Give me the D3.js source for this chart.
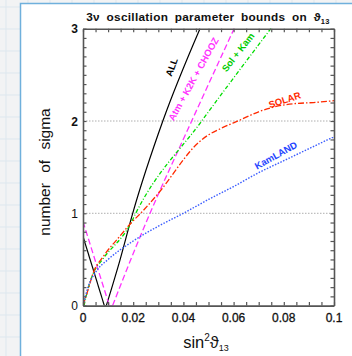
<!DOCTYPE html>
<html>
<head>
<meta charset="utf-8">
<script src="https://cdn.jsdelivr.net/npm/d3@7"></script>
<style>
  html, body { margin: 0; padding: 0; background: #f2f3f4; }
  svg { display: block; }
</style>
</head>
<body>
<svg id="chart" width="352" height="356"></svg>
<script>
// sin^2(theta13) vs number of sigma for each data combination
const allX      = [0, 0.0085, 0.0093, 0.0147, 0.0198, 0.0318, 0.0466];
const allY      = [0.75, 0, 0, 0.49, 1, 2, 3];
const atmX      = [0, 0.0105, 0.0118, 0.0216, 0.0267, 0.0433, 0.0602];
const atmY      = [0.91, 0, 0, 0.67, 1, 2, 3];
const solKamX   = [0.0004, 0.0015, 0.0041, 0.0078, 0.019, 0.021, 0.0473, 0.0748];
const solKamY   = [0, 0.13, 0.35, 0.5, 0.89, 1, 2, 3];
const solarX    = [0, 0.002, 0.004, 0.008, 0.014, 0.019, 0.024, 0.031, 0.040, 0.0426, 0.047, 0.050, 0.055, 0.0625, 0.070, 0.0758, 0.085, 0.0918, 0.1];
const solarY    = [0, 0.17, 0.35, 0.53, 0.73, 0.89, 1.03, 1.25, 1.58, 1.67, 1.79, 1.85, 1.92, 2.01, 2.1, 2.15, 2.19, 2.2, 2.22];
const kamlandX  = [0, 0.002, 0.0055, 0.01, 0.02, 0.03, 0.04, 0.05, 0.06, 0.07, 0.08, 0.09, 0.1];
const kamlandY  = [0, 0.2, 0.38, 0.5, 0.7, 0.86, 1.0, 1.15, 1.29, 1.44, 1.57, 1.7, 1.83];

const xTickValues = [0, 0.02, 0.04, 0.06, 0.08, 0.1];
const xTickLabels = ["0", "0.02", "0.04", "0.06", "0.08", "0.1"];
const yTickValues = [0, 1, 2, 3];
const yTickLabels = ["0", "1", "2", "3"];
const sigmaGuides = [1, 2];

const curves = [
  { name: "ALL", xs: allX, ys: allY, color: "#000000", dash: null, width: 1.2,
    label: { x: 0.0356, y: 2.58, angle: -70 }, labelColor: "#000000" },
  { name: "Atm + K2K + CHOOZ", xs: atmX, ys: atmY, color: "#ff33ff", dash: "6,3", width: 1.3,
    label: { x: 0.0443, y: 2.45, angle: -61 }, labelColor: "#ff33ff" },
  { name: "Sol + Kam", xs: solKamX, ys: solKamY, color: "#00dd00", dash: "4,2,1,2", width: 1.3,
    label: { x: 0.0620, y: 2.74, angle: -52 }, labelColor: "#00cc00" },
  { name: "SOLAR", xs: solarX, ys: solarY, color: "#ff2a00", dash: "6,2,1.5,2", width: 1.3,
    label: { x: 0.0805, y: 2.22, angle: -18 }, labelColor: "#ff2a00" },
  { name: "KamLAND", xs: kamlandX, ys: kamlandY, color: "#3a5cff", dash: "1.5,1.5", width: 1.4,
    label: { x: 0.0770, y: 1.62, angle: -29 }, labelColor: "#1f45ff" }
];

const svg = d3.select("#chart");
const W = 352, H = 356;

// graph-paper backdrop
const bg = svg.append("g");
for (let gx = 6; gx < W; gx += 22) {
  bg.append("line").attr("x1", gx).attr("x2", gx).attr("y1", 0).attr("y2", H)
    .attr("stroke", "#dde7ee").attr("stroke-width", 1);
}
for (let gy = 7; gy < H; gy += 22) {
  bg.append("line").attr("x1", 0).attr("x2", W).attr("y1", gy).attr("y2", gy)
    .attr("stroke", "#dde7ee").attr("stroke-width", 1);
}

// white panel
svg.append("rect").attr("x", 22).attr("y", 6).attr("width", 340).attr("height", 360)
  .attr("fill", "#c9dcea").attr("opacity", 0.6);
svg.append("rect").attr("x", 20.5).attr("y", 3.5).attr("width", 340).attr("height", 360)
  .attr("fill", "#ffffff").attr("stroke", "#6fb0dc").attr("stroke-width", 1.5);

const plotLeft = 83, plotRight = 334, plotTop = 28.7, plotBottom = 305.6;
const x = d3.scaleLinear().domain([0, 0.1]).range([plotLeft, plotRight]);
const y = d3.scaleLinear().domain([0, 3]).range([plotBottom, plotTop]);

const font = "'Liberation Sans', Arial, Helvetica, sans-serif";

// dotted sigma guides
svg.append("g").selectAll("line").data(sigmaGuides).join("line")
  .attr("x1", x(0)).attr("x2", x(0.1))
  .attr("y1", d => y(d)).attr("y2", d => y(d))
  .attr("stroke", "#9a9a9a").attr("stroke-width", 0.8).attr("stroke-dasharray", "1.5,1.5");

// curves
svg.append("clipPath").attr("id", "plotclip").append("rect")
  .attr("x", plotLeft).attr("y", plotTop - 1)
  .attr("width", plotRight - plotLeft).attr("height", plotBottom - plotTop + 1);

const line = d3.line().x(d => x(d[0])).y(d => y(d[1])).curve(d3.curveMonotoneX);
const curveG = svg.append("g").attr("clip-path", "url(#plotclip)");

// split each curve at its zero(s) so V-shaped minima keep a sharp corner
function branches(pts) {
  const out = [];
  let cur = [];
  pts.forEach((p, i) => {
    cur.push(p);
    if (p[1] === 0 && i > 0 && i < pts.length - 1) {
      out.push(cur);
      cur = [p];
    }
  });
  out.push(cur);
  return out.filter(b => b.length > 1);
}

curves.forEach(c => {
  const pts = c.xs.map((v, i) => [v, c.ys[i]]);
  const g = curveG.append("g");
  branches(pts).forEach(b => {
    g.append("path").datum(b)
      .attr("d", line)
      .attr("fill", "none")
      .attr("stroke", c.color)
      .attr("stroke-width", c.width)
      .attr("stroke-dasharray", c.dash);
  });
});

// curve labels
curves.forEach(c => {
  svg.append("text")
    .attr("transform", `translate(${x(c.label.x)},${y(c.label.y)}) rotate(${c.label.angle})`)
    .attr("text-anchor", "middle")
    .attr("dominant-baseline", "middle")
    .attr("font-family", font)
    .attr("font-weight", "bold")
    .attr("font-size", 9.5)
    .attr("fill", c.labelColor)
    .text(c.name);
});

// frame axes with inward ticks
const axisColor = "#555555";
const axG = svg.append("g");
const xMinor = d3.range(0, 0.1001, 0.005);
const yMinor = d3.range(0, 3.001, 0.1);

const bottomAxis = d3.axisBottom(x).tickValues(xMinor).tickSizeInner(-3.5).tickSizeOuter(0).tickFormat("");
const topAxis = d3.axisTop(x).tickValues(xMinor).tickSizeInner(-3.5).tickSizeOuter(0).tickFormat("");
const leftAxis = d3.axisLeft(y).tickValues(yMinor).tickSizeInner(-3.5).tickSizeOuter(0).tickFormat("");
const rightAxis = d3.axisRight(y).tickValues(yMinor).tickSizeInner(-3.5).tickSizeOuter(0).tickFormat("");

axG.append("g").attr("transform", `translate(0,${plotBottom})`).call(bottomAxis);
axG.append("g").attr("transform", `translate(0,${plotTop})`).call(topAxis);
axG.append("g").attr("transform", `translate(${plotLeft},0)`).call(leftAxis);
axG.append("g").attr("transform", `translate(${plotRight},0)`).call(rightAxis);
axG.selectAll("path.domain").attr("stroke", axisColor).attr("stroke-width", 1.6);
axG.selectAll(".tick line").attr("stroke", axisColor).attr("stroke-width", 1.2);

// tick labels
svg.append("g").selectAll("text").data(xTickValues).join("text")
  .attr("x", d => x(d)).attr("y", 322)
  .attr("text-anchor", "middle")
  .attr("font-family", font).attr("font-size", 12)
  .attr("fill", "#111").attr("stroke", "#111").attr("stroke-width", 0.3)
  .text((d, i) => xTickLabels[i]);

svg.append("g").selectAll("text").data(yTickValues).join("text")
  .attr("x", 78).attr("y", d => y(d) + 4.5)
  .attr("text-anchor", "end")
  .attr("font-family", font).attr("font-size", 12)
  .attr("font-weight", d => d >= 2 ? "bold" : "normal")
  .attr("fill", "#111")
  .text((d, i) => yTickLabels[i]);

// title
const title = svg.append("text")
  .attr("x", 208).attr("y", 21)
  .attr("text-anchor", "middle")
  .attr("font-family", font).attr("font-weight", "bold").attr("font-size", 11.8)
  .attr("word-spacing", 3).attr("letter-spacing", 0.3)
  .attr("fill", "#111");
title.append("tspan").text("3ν oscillation parameter bounds on ϑ");
title.append("tspan").attr("font-size", 7.5).attr("dy", 3).text("13");

// axis titles
const xt = svg.append("text")
  .attr("x", 206).attr("y", 348)
  .attr("text-anchor", "middle")
  .attr("font-family", font).attr("font-size", 16.5)
  .attr("fill", "#111");
xt.append("tspan").text("sin");
xt.append("tspan").attr("font-size", 10).attr("dy", -7).text("2");
xt.append("tspan").attr("dy", 7).text("ϑ");
xt.append("tspan").attr("font-size", 9).attr("dy", 3).text("13");

svg.append("text")
  .attr("transform", "translate(50,172) rotate(-90)")
  .attr("text-anchor", "middle")
  .attr("font-family", font).attr("font-size", 15.5)
  .attr("word-spacing", 6)
  .attr("fill", "#111")
  .text("number of sigma");
</script>
</body>
</html>
